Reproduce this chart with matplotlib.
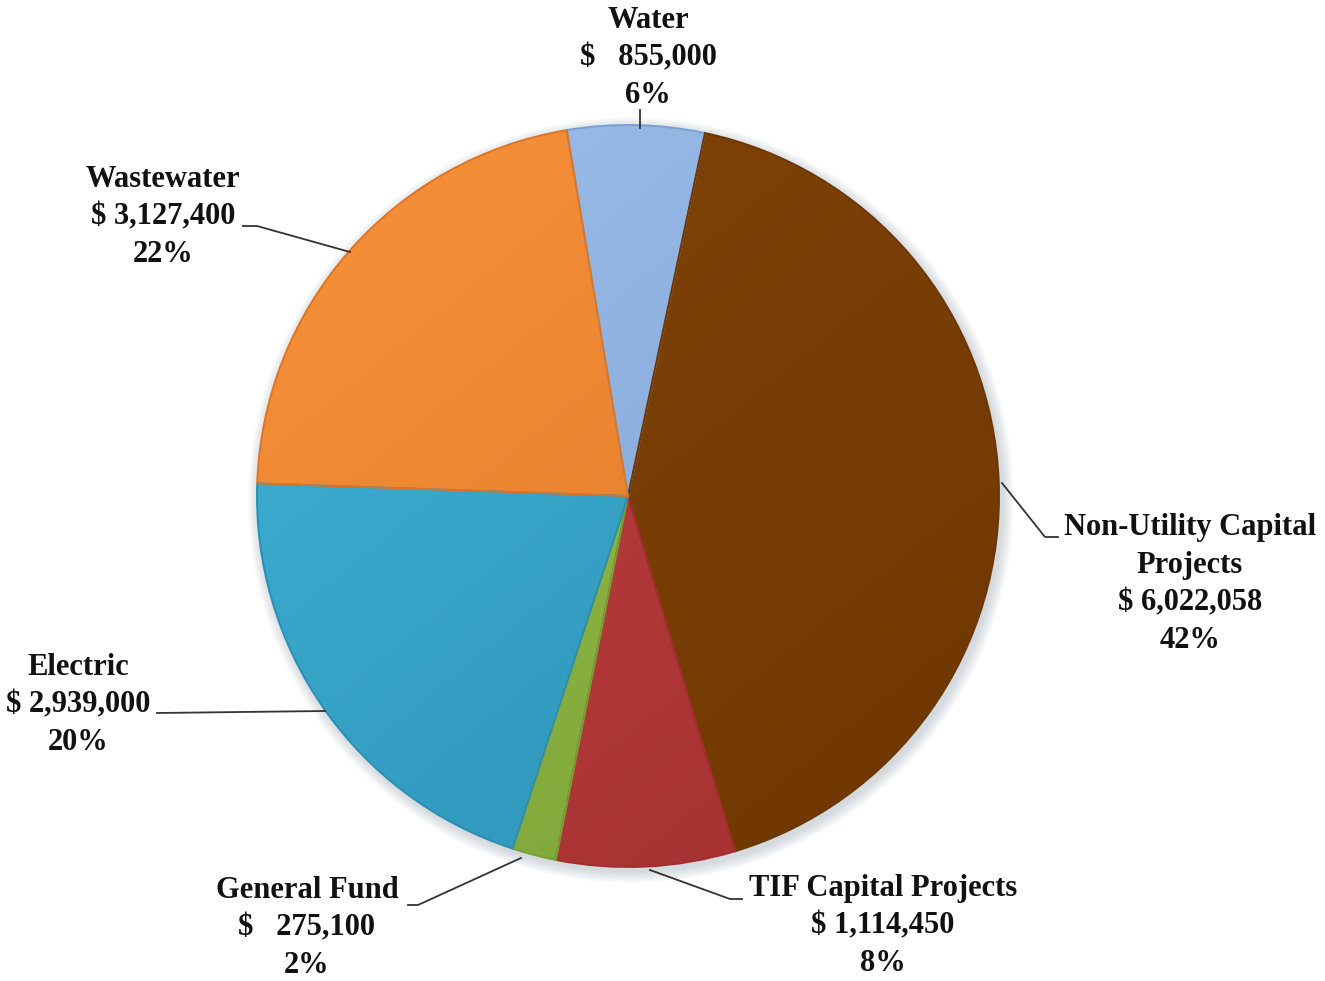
import numpy as np
import matplotlib.pyplot as plt
from matplotlib.colors import LinearSegmentedColormap
from matplotlib.patches import Circle

# capital budget by fund
funds = ['Water', 'Non-Utility Capital\nProjects', 'TIF Capital Projects',
         'General Fund', 'Electric', 'Wastewater']
amounts = [855000, 6022058, 1114450, 275100, 2939000, 3127400]
amount_text = ['$   855,000', '$ 6,022,058', '$ 1,114,450',
               '$   275,100', '$ 2,939,000', '$ 3,127,400']
pct_text = ['6%', '42%', '8%', '2%', '20%', '22%']

light = ['#9DBFEA', '#83450A', '#C24444', '#9AC450', '#40B4D8', '#F8923A']
dark = ['#7C9FD2', '#6E3700', '#A32E2E', '#78A034', '#2B8EB2', '#DC7626']

W, H = 1325, 981
fig = plt.figure(figsize=(W / 100, H / 100), dpi=100)
ax = fig.add_axes([0, 0, 1, 1])
ax.set_xlim(0, W)
ax.set_ylim(0, H)
ax.axis('off')

cx, cy, r = 628, H - 496, 371

# soft shadow round the pie
for i in range(10):
    ax.add_patch(Circle((cx + 3, cy - 4), r + 1 + i * 1.2, color='#8090a0',
                        alpha=0.035, lw=0, zorder=0))
ax.add_patch(Circle((cx, cy), r, color='white', lw=0, zorder=0.5))

wedges, _ = ax.pie(amounts, center=(cx, cy), radius=r, startangle=99.5,
                   counterclock=False, colors=light, frame=True,
                   wedgeprops=dict(lw=1.4, zorder=1))

# diagonal shading inside each slice
yy, xx = np.mgrid[0:1:200j, 0:1:200j]
grad = (xx * 0.45 + yy * 0.55)
for w, c1, c2 in zip(wedges, light, dark):
    cmap = LinearSegmentedColormap.from_list('g', [c1, c2])
    im = ax.imshow(grad, cmap=cmap, extent=[cx - r, cx + r, cy - r, cy + r],
                   origin='upper', aspect='auto', zorder=1.1, interpolation='bilinear')
    im.set_clip_path(w)
    w.set_facecolor('none')
    w.set_edgecolor(c2)
    w.set_zorder(1.2)

ax.set_xlim(0, W)
ax.set_ylim(0, H)
ax.set_aspect('auto')

font = dict(family='Liberation Serif', weight='bold', size=22,
            ha='center', va='center', linespacing=1.4, color='#111111')
label_pos = [(648, 58), (1190, 584), (883, 926), (307, 928), (78, 705), (163, 217)]
for name, amt, pct, (lx, ly) in zip(funds, amount_text, pct_text, label_pos):
    ax.text(lx, H - ly, f'{name}\n{amt}\n{pct}', **font)

# leader lines from labels to slices
leaders = [
    [(640, 110), (640, 128)],
    [(1002, 483), (1045, 537), (1058, 537)],
    [(650, 870), (730, 899), (742, 899)],
    [(408, 905), (418, 905), (521, 858)],
    [(157, 713), (325, 711)],
    [(243, 226), (257, 226), (350, 252)],
]
for pts in leaders:
    xs = [p[0] for p in pts]
    ys = [H - p[1] for p in pts]
    ax.plot(xs, ys, color='#333333', lw=1.3, zorder=3)

plt.savefig('out.png', dpi=100)
